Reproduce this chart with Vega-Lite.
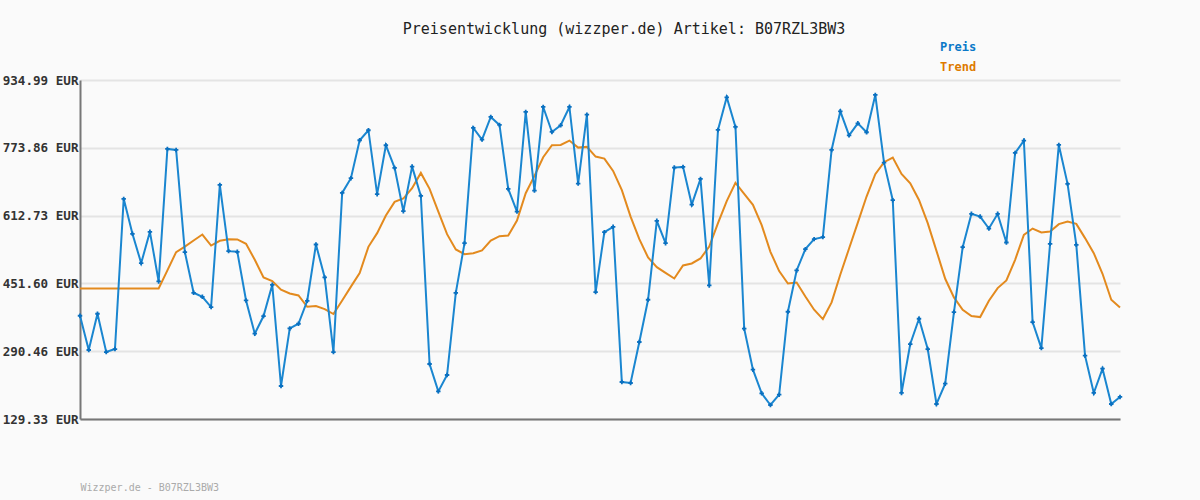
{
  "$schema": "https://vega.github.io/schema/vega-lite/v6.json",
  "width": 1040,
  "height": 339,
  "autosize": {"type": "none"},
  "padding": {"left": 80, "top": 80, "right": 80, "bottom": 81},
  "background": "#fafafa",
  "title": {
    "text": "Preisentwicklung (wizzper.de) Artikel: B07RZL3BW3",
    "font": "DejaVu Sans Mono",
    "fontSize": 15,
    "fontWeight": "normal",
    "color": "#222222",
    "anchor": "middle",
    "dx": 24,
    "offset": 4
  },
  "config": {"view": {"stroke": null}},
  "data": {
    "values": [
      {"i": 0, "Preis": 374.7, "Trend": 439.5},
      {"i": 1, "Preis": 293.3, "Trend": 439.5},
      {"i": 2, "Preis": 379.5, "Trend": 439.5},
      {"i": 3, "Preis": 288.5, "Trend": 439.5},
      {"i": 4, "Preis": 295.6, "Trend": 439.5},
      {"i": 5, "Preis": 652.5, "Trend": 439.5},
      {"i": 6, "Preis": 569.4, "Trend": 439.5},
      {"i": 7, "Preis": 499.8, "Trend": 439.5},
      {"i": 8, "Preis": 574.2, "Trend": 439.5},
      {"i": 9, "Preis": 456.2, "Trend": 439.5},
      {"i": 10, "Preis": 771.2, "Trend": 482.7},
      {"i": 11, "Preis": 768.8, "Trend": 526.0},
      {"i": 12, "Preis": 525.9, "Trend": 539.0},
      {"i": 13, "Preis": 429.3, "Trend": 553.5},
      {"i": 14, "Preis": 419.8, "Trend": 567.7},
      {"i": 15, "Preis": 395.4, "Trend": 541.6},
      {"i": 16, "Preis": 685.7, "Trend": 552.8},
      {"i": 17, "Preis": 528.3, "Trend": 556.7},
      {"i": 18, "Preis": 526.7, "Trend": 556.0},
      {"i": 19, "Preis": 411.0, "Trend": 545.7},
      {"i": 20, "Preis": 332.0, "Trend": 507.7},
      {"i": 21, "Preis": 374.0, "Trend": 465.7},
      {"i": 22, "Preis": 448.3, "Trend": 457.0},
      {"i": 23, "Preis": 207.8, "Trend": 436.5},
      {"i": 24, "Preis": 344.6, "Trend": 427.6},
      {"i": 25, "Preis": 355.7, "Trend": 423.0},
      {"i": 26, "Preis": 410.3, "Trend": 396.0},
      {"i": 27, "Preis": 544.0, "Trend": 397.7},
      {"i": 28, "Preis": 465.7, "Trend": 390.6},
      {"i": 29, "Preis": 288.5, "Trend": 378.8},
      {"i": 30, "Preis": 666.7, "Trend": 411.0},
      {"i": 31, "Preis": 701.6, "Trend": 444.0},
      {"i": 32, "Preis": 791.8, "Trend": 476.0},
      {"i": 33, "Preis": 815.6, "Trend": 538.5},
      {"i": 34, "Preis": 663.6, "Trend": 571.0},
      {"i": 35, "Preis": 779.9, "Trend": 613.0},
      {"i": 36, "Preis": 726.1, "Trend": 645.4},
      {"i": 37, "Preis": 623.2, "Trend": 653.3},
      {"i": 38, "Preis": 729.2, "Trend": 677.8},
      {"i": 39, "Preis": 659.6, "Trend": 714.2},
      {"i": 40, "Preis": 260.0, "Trend": 676.2},
      {"i": 41, "Preis": 195.0, "Trend": 622.3},
      {"i": 42, "Preis": 233.9, "Trend": 568.6},
      {"i": 43, "Preis": 429.3, "Trend": 532.2},
      {"i": 44, "Preis": 547.2, "Trend": 521.0},
      {"i": 45, "Preis": 821.0, "Trend": 523.5},
      {"i": 46, "Preis": 793.3, "Trend": 529.8},
      {"i": 47, "Preis": 847.2, "Trend": 553.5},
      {"i": 48, "Preis": 828.2, "Trend": 563.9},
      {"i": 49, "Preis": 676.2, "Trend": 565.4},
      {"i": 50, "Preis": 622.3, "Trend": 601.0},
      {"i": 51, "Preis": 859.0, "Trend": 666.0},
      {"i": 52, "Preis": 672.3, "Trend": 707.1},
      {"i": 53, "Preis": 870.9, "Trend": 751.4},
      {"i": 54, "Preis": 811.5, "Trend": 779.9},
      {"i": 55, "Preis": 827.4, "Trend": 780.7},
      {"i": 56, "Preis": 870.9, "Trend": 791.0},
      {"i": 57, "Preis": 688.8, "Trend": 774.3},
      {"i": 58, "Preis": 852.6, "Trend": 776.0},
      {"i": 59, "Preis": 430.9, "Trend": 753.0},
      {"i": 60, "Preis": 573.4, "Trend": 748.2},
      {"i": 61, "Preis": 586.0, "Trend": 719.0},
      {"i": 62, "Preis": 217.3, "Trend": 673.1},
      {"i": 63, "Preis": 214.9, "Trend": 610.5},
      {"i": 64, "Preis": 312.3, "Trend": 556.8},
      {"i": 65, "Preis": 412.7, "Trend": 513.2},
      {"i": 66, "Preis": 600.3, "Trend": 490.3},
      {"i": 67, "Preis": 547.2, "Trend": 476.8},
      {"i": 68, "Preis": 726.9, "Trend": 463.3},
      {"i": 69, "Preis": 728.5, "Trend": 494.2},
      {"i": 70, "Preis": 639.0, "Trend": 499.0},
      {"i": 71, "Preis": 700.0, "Trend": 510.8},
      {"i": 72, "Preis": 446.7, "Trend": 539.3},
      {"i": 73, "Preis": 816.3, "Trend": 594.8},
      {"i": 74, "Preis": 893.9, "Trend": 647.0},
      {"i": 75, "Preis": 823.4, "Trend": 690.5},
      {"i": 76, "Preis": 343.9, "Trend": 664.4},
      {"i": 77, "Preis": 246.5, "Trend": 638.2},
      {"i": 78, "Preis": 190.3, "Trend": 590.0},
      {"i": 79, "Preis": 162.6, "Trend": 526.7},
      {"i": 80, "Preis": 187.2, "Trend": 480.8},
      {"i": 81, "Preis": 384.2, "Trend": 451.4},
      {"i": 82, "Preis": 482.4, "Trend": 453.8},
      {"i": 83, "Preis": 533.0, "Trend": 420.6},
      {"i": 84, "Preis": 556.8, "Trend": 389.0},
      {"i": 85, "Preis": 561.6, "Trend": 366.8},
      {"i": 86, "Preis": 768.8, "Trend": 406.4},
      {"i": 87, "Preis": 860.6, "Trend": 472.8},
      {"i": 88, "Preis": 803.6, "Trend": 534.5},
      {"i": 89, "Preis": 832.0, "Trend": 596.0},
      {"i": 90, "Preis": 810.8, "Trend": 658.0},
      {"i": 91, "Preis": 899.4, "Trend": 711.0},
      {"i": 92, "Preis": 738.6, "Trend": 739.6},
      {"i": 93, "Preis": 649.4, "Trend": 750.6},
      {"i": 94, "Preis": 191.2, "Trend": 711.8},
      {"i": 95, "Preis": 307.5, "Trend": 689.7},
      {"i": 96, "Preis": 367.6, "Trend": 650.0},
      {"i": 97, "Preis": 295.6, "Trend": 594.8},
      {"i": 98, "Preis": 165.0, "Trend": 529.0},
      {"i": 99, "Preis": 213.3, "Trend": 462.6},
      {"i": 100, "Preis": 383.4, "Trend": 418.3},
      {"i": 101, "Preis": 537.8, "Trend": 389.0},
      {"i": 102, "Preis": 616.9, "Trend": 374.0},
      {"i": 103, "Preis": 610.5, "Trend": 371.6},
      {"i": 104, "Preis": 582.0, "Trend": 410.3},
      {"i": 105, "Preis": 616.9, "Trend": 440.5},
      {"i": 106, "Preis": 548.8, "Trend": 458.5},
      {"i": 107, "Preis": 761.7, "Trend": 507.7},
      {"i": 108, "Preis": 791.0, "Trend": 567.0},
      {"i": 109, "Preis": 359.7, "Trend": 582.0},
      {"i": 110, "Preis": 297.9, "Trend": 572.5},
      {"i": 111, "Preis": 545.6, "Trend": 574.9},
      {"i": 112, "Preis": 780.7, "Trend": 592.4},
      {"i": 113, "Preis": 688.1, "Trend": 598.6},
      {"i": 114, "Preis": 543.3, "Trend": 593.1},
      {"i": 115, "Preis": 279.8, "Trend": 559.2},
      {"i": 116, "Preis": 191.2, "Trend": 523.5},
      {"i": 117, "Preis": 248.9, "Trend": 474.4},
      {"i": 118, "Preis": 165.0, "Trend": 412.7},
      {"i": 119, "Preis": 181.7, "Trend": 394.4}
    ]
  },
  "transform": [{"fold": ["Preis", "Trend"], "as": ["serie", "wert"]}],
  "encoding": {
    "x": {
      "field": "i",
      "type": "quantitative",
      "scale": {"domain": [0, 119], "nice": false, "zero": false},
      "axis": {
        "labels": false,
        "ticks": false,
        "grid": false,
        "domainColor": "#777777",
        "domainWidth": 2,
        "title": "Wizzper.de - B07RZL3BW3",
        "titleFont": "DejaVu Sans Mono",
        "titleFontSize": 10,
        "titleFontWeight": "normal",
        "titleColor": "#aaaaaa",
        "titleAnchor": "start",
        "titleAlign": "left",
        "titleBaseline": "middle",
        "titleX": 0,
        "titleY": 68
      }
    },
    "y": {
      "field": "wert",
      "type": "quantitative",
      "scale": {"domain": [129.33, 934.99], "nice": false, "zero": false},
      "axis": {
        "values": [129.33, 290.46, 451.6, 612.73, 773.86, 934.99],
        "labelExpr": "format(datum.value, '.2f') + ' EUR'",
        "grid": true,
        "gridColor": "#e4e4e4",
        "gridWidth": 2,
        "domainColor": "#777777",
        "domainWidth": 2,
        "ticks": false,
        "labelPadding": 2,
        "labelFont": "DejaVu Sans Mono",
        "labelFontWeight": "bold",
        "labelFontSize": 12.6,
        "labelColor": "#333333",
        "labelOverlap": false,
        "labelBound": false,
        "title": null
      }
    },
    "color": {
      "field": "serie",
      "type": "nominal",
      "scale": {"domain": ["Preis", "Trend"], "range": ["#1a86d0", "#e38a1e"]},
      "legend": {
        "orient": "none",
        "legendX": 848,
        "legendY": -39,
        "title": null,
        "symbolSize": 0,
        "symbolOpacity": 0,
        "symbolStrokeWidth": 0,
        "labelOffset": 0,
        "labelFont": "DejaVu Sans Mono",
        "labelFontWeight": "bold",
        "labelFontSize": 12,
        "labelColor": {"expr": "datum.label == 'Preis' ? '#0a78c8' : '#de7a00'"},
        "rowPadding": 8
      }
    }
  },
  "layer": [
    {
      "transform": [{"filter": "datum.serie == 'Trend'"}],
      "mark": {"type": "line", "strokeWidth": 2}
    },
    {
      "transform": [{"filter": "datum.serie == 'Preis'"}],
      "mark": {"type": "line", "strokeWidth": 2}
    },
    {
      "transform": [{"filter": "datum.serie == 'Preis'"}],
      "mark": {"type": "point", "shape": "cross", "filled": true, "size": 20, "color": "#0a70c0", "opacity": 1},
      "encoding": {"color": {"value": "#0a70c0"}}
    }
  ]
}
